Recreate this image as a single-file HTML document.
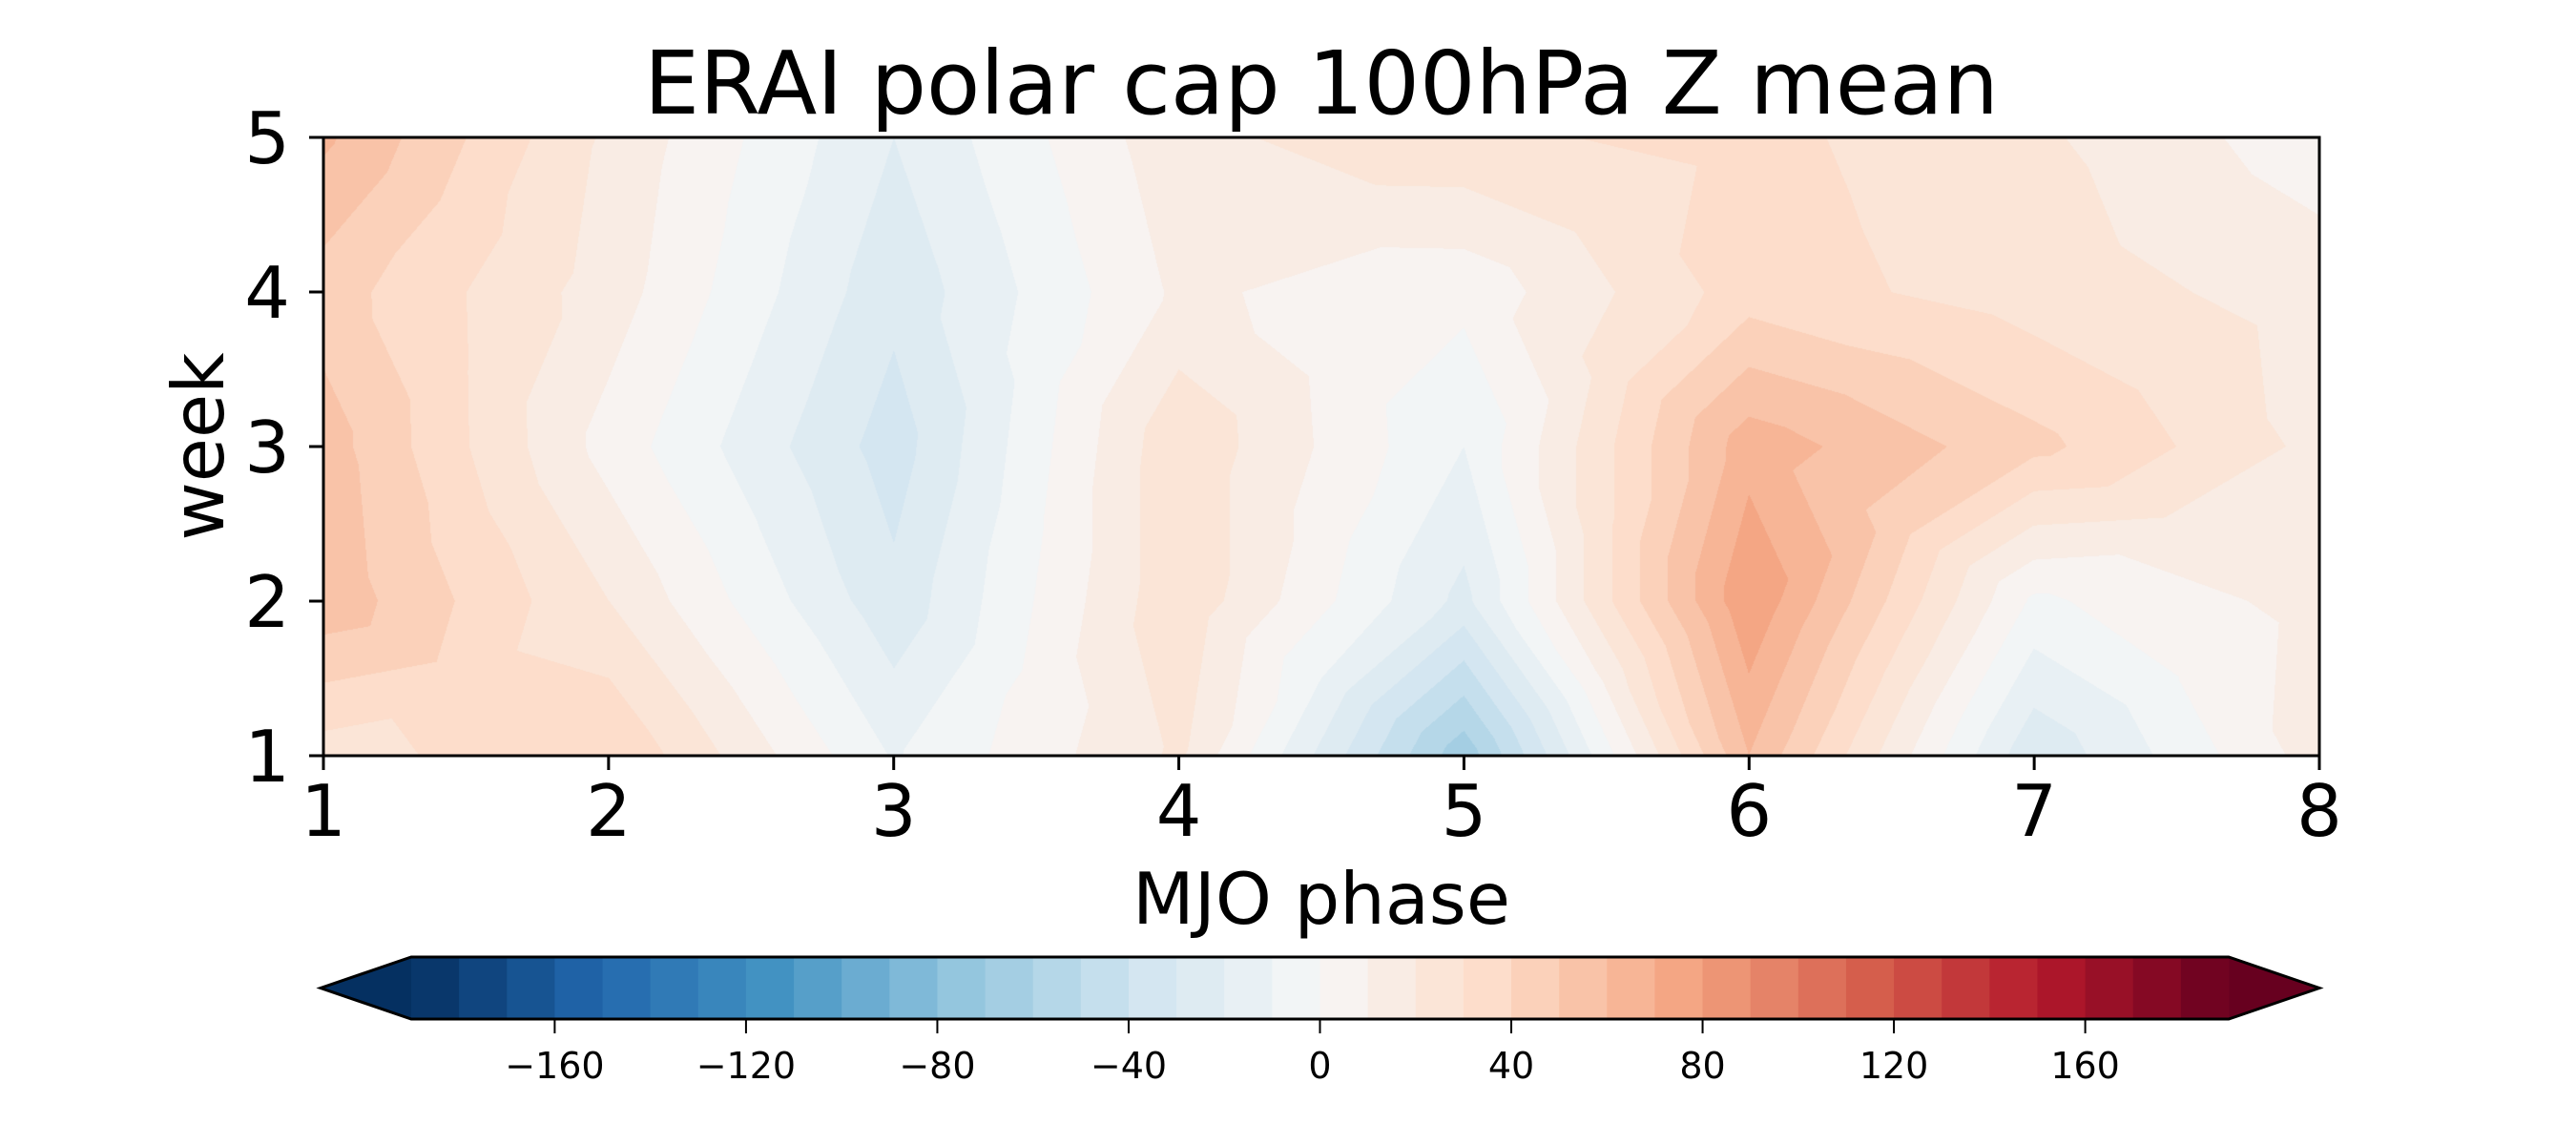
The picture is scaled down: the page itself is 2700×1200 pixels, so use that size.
<!DOCTYPE html>
<html><head><meta charset="utf-8"><style>
html,body{margin:0;padding:0;background:#fff;}
#wrap{position:relative;width:2700px;height:1200px;overflow:hidden;}
#field{position:absolute;left:339px;top:144px;}
svg{position:absolute;left:0;top:0;}
text{font-family:"DejaVu Sans","Liberation Sans",sans-serif;fill:#000;}
</style></head><body>
<div id="wrap">
<canvas id="field" width="2092" height="648"></canvas>
<svg id="svg" width="2700" height="1200"></svg>
</div>
<script>
// Data: rows = week 1..5, cols = MJO phase 1..8
const phases = [1,2,3,4,5,6,7,8];
const weeks = [1,2,3,4,5];
const week1 = [25, 40, -11, 22, -67, 60, -28, 15];
const week2 = [57, 20, -27, 28, -23, 79, -2, 14];
const week3 = [55, 6, -35, 28, -10, 66, 43, 17];
const week4 = [45, 15, -27, 12, 3, 35, 25, 16];
const week5 = [62, 18, -20, 17, 28, 33, 22, 4];
const xTickLabels = ["1","2","3","4","5","6","7","8"];
const yTickLabels = ["1","2","3","4","5"];
const cbarTicks = [-160,-120,-80,-40,0,40,80,120,160];
const levelMin = -190, levelMax = 190, levelStep = 10;

const grid = [week1, week2, week3, week4, week5];
const PL=339, PR=2431, PT=144, PB=792;
const xs = p => PL + (p - phases[0]) / (phases[phases.length-1] - phases[0]) * (PR - PL);
const ys = w => PB - (w - weeks[0]) / (weeks[weeks.length-1] - weeks[0]) * (PB - PT);

const anchors = [[5,48,97],[33,102,172],[67,147,195],[146,197,222],[209,229,240],[247,247,247],[253,219,199],[244,165,130],[214,96,77],[178,24,43],[103,0,31]];
function cmap(t){t=Math.max(0,Math.min(1,t));const s=t*10;const i=Math.min(9,Math.floor(s));const f=s-i;const a=anchors[i],b=anchors[i+1];return [0,1,2].map(k=>Math.round(a[k]+(b[k]-a[k])*f));}
function binColor(v){
  if(v<levelMin) return cmap(0);
  if(v>=levelMax) return cmap(1);
  const lo=levelMin+Math.floor((v-levelMin)/levelStep)*levelStep;
  return cmap((lo+levelStep/2-levelMin)/(levelMax-levelMin));
}

// field
const cv=document.getElementById('field');const ctx=cv.getContext('2d');
const W=cv.width,H=cv.height;const img=ctx.createImageData(W,H);
const nx=phases.length-1, ny=weeks.length-1;
for(let py=0;py<H;py++){
  const vv=(H-1-py)/(H-1)*ny;
  for(let px=0;px<W;px++){
    const uu=px/(W-1)*nx;
    let i=Math.min(nx-1,Math.floor(uu)), j=Math.min(ny-1,Math.floor(vv));
    const fx=uu-i, fy=vv-j;
    const a=grid[j][i], b=grid[j][i+1], c=grid[j+1][i+1], d=grid[j+1][i];
    const m=(a+b+c+d)/4; const dx=fx-0.5, dy=fy-0.5; let val;
    if(Math.abs(dy)>=Math.abs(dx)){
      if(dy<0) val=a+(b-a)*fx+(2*m-a-b)*fy; else val=d+(c-d)*fx+(2*m-d-c)*(1-fy);
    } else {
      if(dx<0) val=a+(d-a)*fy+(2*m-a-d)*fx; else val=b+(c-b)*fy+(2*m-b-c)*(1-fx);
    }
    const col=binColor(val); const k=(py*W+px)*4;
    img.data[k]=col[0];img.data[k+1]=col[1];img.data[k+2]=col[2];img.data[k+3]=255;
  }
}
ctx.putImageData(img,0,0);

const svg=document.getElementById('svg');const NS='http://www.w3.org/2000/svg';
function mk(tag,attrs,txt){const e=document.createElementNS(NS,tag);for(const k in attrs)e.setAttribute(k,attrs[k]);if(txt!==undefined)e.textContent=txt;svg.appendChild(e);return e;}

let t=mk('text',{x:1385,y:119,'font-size':92,'text-anchor':'middle'},'ERAI polar cap 100hPa Z mean');


let r=mk('rect',{x:PL,y:PT,width:PR-PL,height:PB-PT,fill:'none',stroke:'#000','stroke-width':3});



phases.forEach((p,idx)=>{
  const x=xs(p);
  const tk=mk('line',{x1:x,y1:PB,x2:x,y2:PB+15,stroke:'#000','stroke-width':3});
  
  
  const lb=mk('text',{x:x,y:876,'font-size':75,'text-anchor':'middle'},xTickLabels[idx]);
  
  
});
weeks.forEach((w,idx)=>{
  const y=ys(w);
  const tk=mk('line',{x1:PL-15,y1:y,x2:PL,y2:y,stroke:'#000','stroke-width':3});
  
  
  const lb=mk('text',{x:304,y:y+27,'font-size':75,'text-anchor':'end'},yTickLabels[idx]);
  
  
});
t=mk('text',{x:1385,y:968,'font-size':75,'text-anchor':'middle'},'MJO phase');


t=mk('text',{x:0,y:0,'font-size':75,'text-anchor':'middle',transform:'translate(234,468) rotate(-90)'},'week');



// colorbar
const CL=431, CR=2336, CT=1003, CB=1068, TL=336, TR=2431, CM=(CT+CB)/2;
const cx = v => CL + (v-levelMin)/(levelMax-levelMin)*(CR-CL);
const rgb=c=>`rgb(${c[0]},${c[1]},${c[2]})`;
let tri=mk('polygon',{points:`${CL},${CT} ${TL},${CM} ${CL},${CB}`,fill:rgb(cmap(0))});


tri=mk('polygon',{points:`${CR},${CT} ${TR},${CM} ${CR},${CB}`,fill:rgb(cmap(1))});


for(let v=levelMin; v<levelMax; v+=levelStep){
  const b=mk('rect',{x:cx(v),y:CT,width:cx(v+levelStep)-cx(v)+0.6,height:CB-CT,fill:rgb(binColor(v+levelStep/2))});
  
  
}
let ol=mk('polygon',{points:`${CL},${CT} ${CR},${CT} ${TR},${CM} ${CR},${CB} ${CL},${CB} ${TL},${CM}`,fill:'none',stroke:'#000','stroke-width':3});


cbarTicks.forEach(v=>{
  const x=cx(v);
  const tk=mk('line',{x1:x,y1:CB,x2:x,y2:CB+15,stroke:'#000','stroke-width':2});
  
  
  const lb=mk('text',{x:x,y:1130,'font-size':38,'text-anchor':'middle'},(v<0?'\u2212'+(-v):String(v)));
  
  
});
</script>
</body></html>
